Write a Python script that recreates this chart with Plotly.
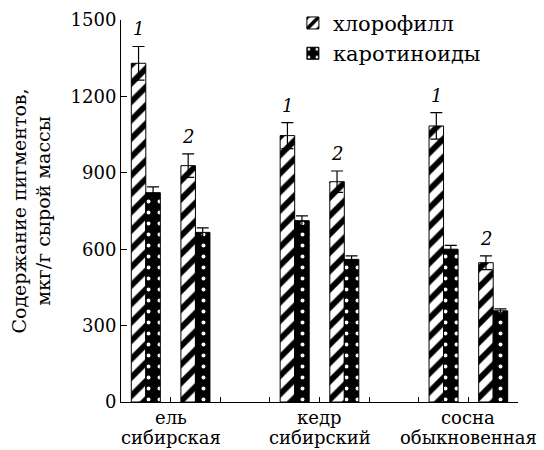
import plotly.graph_objects as go

species_line1 = ["ель", "кедр", "сосна"]
species_line2 = ["сибирская", "сибирский", "обыкновенная"]
species_pos = [1, 4, 7]
slot_x = [0.5, 1.5, 3.5, 4.5, 6.5, 7.5]
group_labels = ["1", "2", "1", "2", "1", "2"]
chlorophyll = [1330, 928, 1046, 865, 1084, 547]
chlorophyll_err = [66, 46, 51, 42, 52, 27]
carotenoids = [822, 666, 712, 560, 600, 358]
carotenoids_err = [23, 18, 19, 14, 15, 8]
y_ticks = [0, 300, 600, 900, 1200, 1500]

FONT = "DejaVu Serif"
FS = 18
fig = go.Figure()
fig.add_trace(go.Bar(
    x=slot_x, y=chlorophyll, name="хлорофилл", legendgroup="a",
    marker=dict(color="white", line=dict(color="black", width=1),
                pattern=dict(shape="/", fgcolor="black", bgcolor="white",
                             size=13, solidity=0.45, fillmode="replace")),
    error_y=dict(type="data", array=chlorophyll_err, color="black",
                 thickness=1.2, width=6),
))
fig.add_trace(go.Bar(
    x=slot_x, y=carotenoids, name="каротиноиды", legendgroup="b",
    marker=dict(color="black", line=dict(color="black", width=1),
                pattern=dict(shape=".", fgcolor="white", bgcolor="black",
                             size=11, solidity=0.1, fillmode="replace")),
    error_y=dict(type="data", array=carotenoids_err, color="black",
                 thickness=1.2, width=6),
))

for xs, v, e, lab in zip(slot_x, chlorophyll, chlorophyll_err, group_labels):
    fig.add_annotation(x=xs - 0.145, y=v + e, text="<i>" + lab + "</i>",
                       showarrow=False, yanchor="bottom", yshift=5,
                       font=dict(family=FONT, size=FS, color="black"))

for xp, l1, l2 in zip(species_pos, species_line1, species_line2):
    fig.add_annotation(x=xp, y=0, yref="paper", text=l1, showarrow=False,
                       yanchor="middle", yshift=-15,
                       font=dict(family=FONT, size=FS, color="black"))
    fig.add_annotation(x=xp, y=0, yref="paper", text=l2, showarrow=False,
                       yanchor="middle", yshift=-35,
                       font=dict(family=FONT, size=FS, color="black"))

fig.update_layout(
    width=544, height=450,
    margin=dict(l=121, r=26, t=20, b=48, autoexpand=False),
    paper_bgcolor="white", plot_bgcolor="white",
    barmode="group", bargap=0.415, bargroupgap=0,
    font=dict(family=FONT, size=FS, color="black"),
    showlegend=True,
    legend=dict(x=0.433, y=1.045, xanchor="left", yanchor="top",
                bgcolor="rgba(0,0,0,0)", font=dict(family=FONT, size=21),
                itemwidth=30, tracegroupgap=0),
    xaxis=dict(range=[0, 8], tickvals=[1, 2, 3, 4, 5, 6, 7, 8],
               showticklabels=False,
               ticks="inside", ticklen=5, tickcolor="black",
               showline=True, linecolor="black", linewidth=1,
               showgrid=False, zeroline=False, automargin=False),
    yaxis=dict(range=[0, 1500], tickvals=y_ticks,
               ticks="inside", ticklen=6, tickcolor="black",
               showline=True, linecolor="black", linewidth=1,
               showgrid=False, zeroline=False, automargin=False,
               tickfont=dict(family=FONT, size=FS),
               title=dict(text="Содержание пигментов,<br>мкг/г сырой массы",
                          font=dict(family=FONT, size=19), standoff=14)),
)

fig.write_html("out.html", config={"displayModeBar": False},
               post_script="document.body.style.margin='0';")
